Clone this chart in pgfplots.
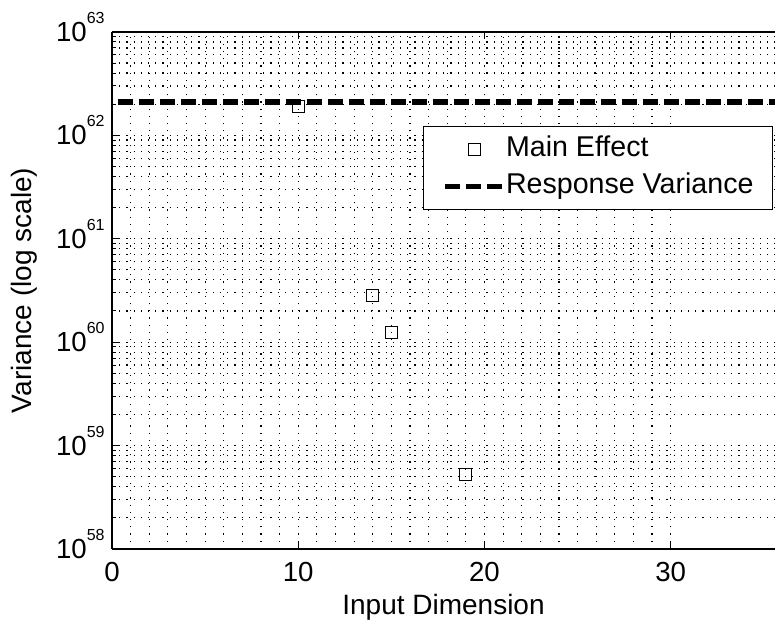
\documentclass[border=0pt]{standalone}
\usepackage{pgfplots}
\pgfplotsset{compat=1.18}
\usepackage{fontspec}
\setmainfont{Liberation Sans}
\newcommand{\tp}[1]{10\raisebox{9bp}{\fontsize{8bp}{8bp}\selectfont #1}}
\begin{document}
\begin{tikzpicture}
\begin{axis}[
  name=ax,
  scale only axis,
  width=331.5bp, height=258.5bp,
  xmin=0, xmax=35.6,
  ymode=log, log basis y=10, ymin=1e58, ymax=1e63,
  axis x line*=box, axis y line*=left,
  axis line style={black, line width=0.7bp},
  xtick={0,10,20,30},
  minor x tick num=9,
  minor x tick style={draw=none},
  ytick={1e58,1e59,1e60,1e61,1e62,1e63},
  yticklabels={\tp{58},\tp{59},\tp{60},\tp{61},\tp{62},\tp{63}},
  minor ytick={2e58,3e58,4e58,5e58,6e58,7e58,8e58,9e58,
               2e59,3e59,4e59,5e59,6e59,7e59,8e59,9e59,
               2e60,3e60,4e60,5e60,6e60,7e60,8e60,9e60,
               2e61,3e61,4e61,5e61,6e61,7e61,8e61,9e61,
               2e62,3e62,4e62,5e62,6e62,7e62,8e62,9e62},
  grid=both,
  major grid style={black, line width=0.6bp, dash pattern=on 0.6bp off 3bp},
  minor grid style={black, line width=0.6bp, dash pattern=on 0.6bp off 3bp},
  major tick length=3.5bp, minor tick length=2bp,
  tick style={black, line width=0.5bp},
  /pgf/number format/assume math mode=true,
  ticklabel style={font=\fontsize{13.8bp}{15bp}\selectfont},
  xticklabel style={inner sep=0pt, anchor=north, yshift=-6.5bp},
  yticklabel style={inner sep=0pt, anchor=base east, xshift=-3.5bp, yshift=-4.75bp},
  label style={font=\fontsize{14bp}{16bp}\selectfont},
  xlabel={Input Dimension},
  xlabel style={at={(axis description cs:0.5,-0.112)}, anchor=center},
  ylabel={Variance (log scale)},
  ylabel style={at={(axis description cs:-0.1327,0.5)}, anchor=center},
  legend style={at={(rel axis cs:0.997,0.818)}, anchor=north east,
    draw=black, line width=0.5bp, fill=white,
    inner xsep=9.5bp, inner ysep=5.5bp, row sep=6.5bp,
    font=\fontsize{14.3bp}{16bp}\selectfont,
    nodes={inner sep=0pt, text height=9.5bp, text depth=2.5bp},
    /tikz/every even column/.append style={column sep=3.5bp}},
  legend cell align=left,
  legend image code/.code={\draw[mark repeat=2, mark phase=2, #1] plot coordinates {(0bp,0bp) (14.5bp,0bp) (29bp,0bp)};},
]
\addplot[only marks, mark=square, mark size=3bp, mark options={black, line width=0.5bp, fill=none}]
  coordinates {(10,1.9e62) (14,2.82e60) (15,1.24e60) (19,5.2e58)};
\addlegendentry{Main Effect}
\addplot[black, line width=2.75bp, dash pattern=on 7.5bp off 3bp]
  coordinates {(0.32,2.1e62) (36,2.1e62)};
\addlegendentry{Response Variance}
\end{axis}
\pgfresetboundingbox
\path ([xshift=-56bp,yshift=-37bp]ax.south west) rectangle ([yshift=16bp]ax.north east);
\end{tikzpicture}
\end{document}
